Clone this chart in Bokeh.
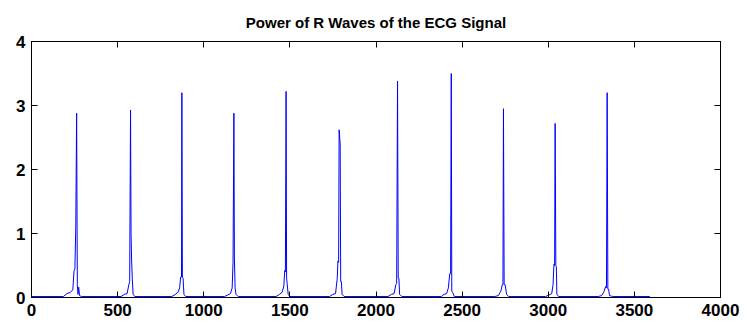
from bokeh.plotting import figure
from bokeh.models import LinearAxis, FixedTicker, Range1d
from bokeh.embed import file_html
from bokeh.resources import INLINE

# ---- data ----
title_text = "Power of R Waves of the ECG Signal"
x_ticks = [0, 500, 1000, 1500, 2000, 2500, 3000, 3500, 4000]
y_ticks = [0, 1, 2, 3, 4]

sample = [
    0,
    185, 205, 225, 240, 247, 252, 257, 262, 266, 270, 274, 279, 290,
    520, 540, 555, 565, 570, 575, 578, 581, 585, 590, 600,
    815, 835, 850, 860, 866, 871, 873, 876, 880, 885, 895,
    1120, 1140, 1155, 1165, 1170, 1175, 1178, 1182, 1187, 1200,
    1420, 1440, 1455, 1465, 1470, 1474, 1478, 1481, 1485, 1490, 1500,
    1730, 1750, 1765, 1775, 1779, 1783, 1786, 1792, 1795, 1799, 1803, 1815,
    2070, 2090, 2105, 2115, 2120, 2125, 2129, 2133, 2137, 2150,
    2380, 2395, 2410, 2420, 2428, 2433, 2437, 2440, 2445, 2455,
    2690, 2710, 2725, 2733, 2737, 2740, 2744, 2750, 2758, 2770,
    2985, 3005, 3020, 3028, 3033, 3037, 3040, 3044, 3047, 3050, 3060,
    3290, 3310, 3325, 3333, 3338, 3342, 3346, 3350, 3356, 3368, 3380,
    3590,
]
power = [
    0.015,
    0.015, 0.06, 0.08, 0.12, 0.42, 0.45, 1.1, 2.88, 0.2, 0.05, 0.16, 0.03, 0.015,
    0.015, 0.05, 0.06, 0.2, 0.25, 2.93, 1.0, 0.6, 0.3, 0.05, 0.015,
    0.015, 0.05, 0.08, 0.15, 0.32, 0.32, 3.2, 0.32, 0.3, 0.05, 0.015,
    0.015, 0.04, 0.06, 0.15, 0.55, 2.88, 0.6, 0.15, 0.05, 0.015,
    0.015, 0.05, 0.08, 0.18, 0.42, 0.4, 3.22, 0.3, 0.2, 0.05, 0.015,
    0.015, 0.05, 0.06, 0.3, 0.57, 0.55, 2.62, 2.4, 0.25, 0.25, 0.05, 0.015,
    0.015, 0.05, 0.06, 0.2, 0.22, 3.38, 0.3, 0.3, 0.05, 0.015,
    0.015, 0.05, 0.06, 0.15, 0.37, 0.37, 3.5, 0.1, 0.08, 0.015,
    0.015, 0.03, 0.1, 0.2, 0.2, 2.95, 0.2, 0.2, 0.05, 0.015,
    0.015, 0.04, 0.06, 0.2, 0.52, 0.5, 2.72, 0.5, 0.48, 0.05, 0.015,
    0.015, 0.03, 0.1, 0.17, 0.15, 3.2, 0.13, 0.13, 0.03, 0.02, 0.015,
    0.015,
]

FONT = "Liberation Sans"

p = figure(
    width=747, height=331,
    x_range=Range1d(0, 4000), y_range=Range1d(0, 4),
    output_backend="svg", toolbar_location=None,
    min_border_left=31, min_border_right=27,
    min_border_top=41, min_border_bottom=34,
)
p.background_fill_color = "white"
p.border_fill_color = "white"
p.xgrid.visible = False
p.ygrid.visible = False
p.outline_line_color = "black"
p.outline_line_width = 1

p.title.text = title_text
p.title.text_font = FONT
p.title.text_font_size = "15px"
p.title.text_font_style = "bold"
p.title.align = "center"
p.title.text_color = "black"
p.title.standoff = 22

def style_axis(ax, ticks, show_labels):
    ax.ticker = FixedTicker(ticks=ticks)
    ax.major_tick_in = 6
    ax.major_tick_out = 0
    ax.minor_tick_in = 0
    ax.minor_tick_out = 0
    ax.axis_line_color = "black"
    ax.major_tick_line_color = "black"
    ax.major_label_text_font = FONT
    ax.major_label_text_font_style = "bold"
    if show_labels:
        ax.major_label_text_color = "black"
        ax.major_label_text_font_size = "17px"
        ax.major_label_standoff = 6
    else:
        ax.major_label_text_color = None
        ax.major_label_text_font_size = "1px"
        ax.major_label_standoff = 0

style_axis(p.xaxis[0], x_ticks, True)
style_axis(p.yaxis[0], y_ticks, True)

top_ax = LinearAxis()
style_axis(top_ax, x_ticks, False)
p.add_layout(top_ax, "above")
right_ax = LinearAxis()
style_axis(right_ax, y_ticks, False)
p.add_layout(right_ax, "right")

p.line(sample, power, line_color="#0000FF", line_width=1)

open("out.html", "w").write(file_html(p, INLINE))
